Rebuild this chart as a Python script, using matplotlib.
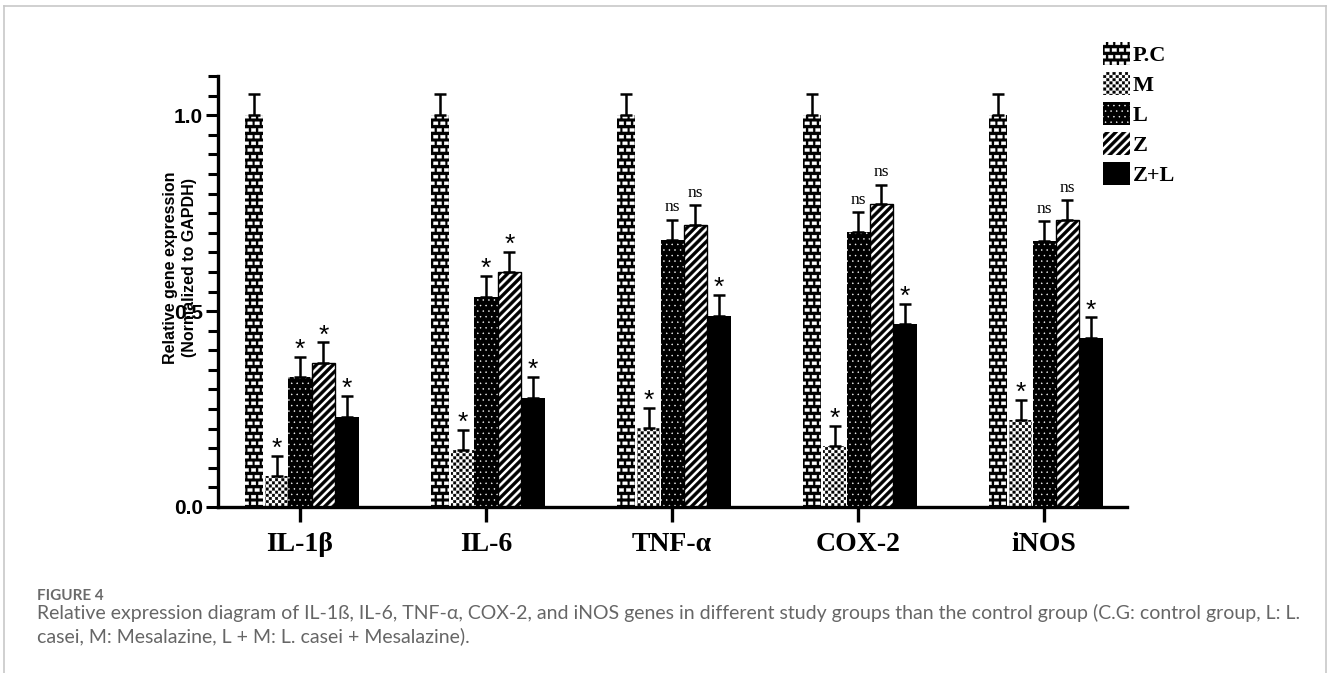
import numpy as np
import matplotlib
matplotlib.use("Agg")
import matplotlib.pyplot as plt
import matplotlib.hatch as mhatch
from matplotlib.path import Path
from matplotlib.patches import Patch
from matplotlib.lines import Line2D
from matplotlib.ticker import MultipleLocator

genes = ["IL-1β", "IL-6", "TNF-α", "COX-2", "iNOS"]
groups = ["P.C", "M", "L", "Z", "Z+L"]

pc = [1.0, 1.0, 1.0, 1.0, 1.0]
m = [0.079, 0.146, 0.202, 0.155, 0.221]
l = [0.332, 0.537, 0.682, 0.702, 0.678]
z = [0.368, 0.599, 0.719, 0.773, 0.732]
zl = [0.230, 0.279, 0.488, 0.467, 0.432]

pc_err = [0.055, 0.055, 0.055, 0.055, 0.055]
m_err = [0.052, 0.051, 0.051, 0.053, 0.053]
l_err = [0.052, 0.052, 0.051, 0.051, 0.052]
z_err = [0.052, 0.051, 0.051, 0.050, 0.051]
zl_err = [0.053, 0.053, 0.053, 0.051, 0.052]

m_sig = ["*", "*", "*", "*", "*"]
l_sig = ["*", "*", "ns", "ns", "ns"]
z_sig = ["*", "*", "ns", "ns", "ns"]
zl_sig = ["*", "*", "*", "*", "*"]


# --- custom hatch patterns (brick, checker, thick stripes) ---
RECT = [Path.MOVETO, Path.LINETO, Path.LINETO, Path.LINETO, Path.CLOSEPOLY]


class BrickHatch(mhatch.HatchPatternBase):
    def __init__(self, hatch, density):
        self.rows = 15 if 'O' in hatch else 0
        self.cols = 14
        self.num_vertices = sum(self.cols + (i % 2) for i in range(self.rows)) * 5

    def set_vertices_and_codes(self, vertices, codes):
        dy = 1.0 / self.rows
        dx = 1.0 / self.cols
        bw, bh = dx * 0.62, dy * 0.45
        k = 0
        for i in range(self.rows):
            shift = 0.5 * dx * (i % 2)
            starts = [j * dx + shift for j in range(self.cols)]
            if i % 2:
                starts.append(shift - dx)
            y0 = i * dy + (dy - bh) / 2
            for x0 in starts:
                x0 += (dx - bw) / 2
                vertices[k:k + 5] = [[x0, y0], [x0 + bw, y0], [x0 + bw, y0 + bh],
                                     [x0, y0 + bh], [x0, y0]]
                codes[k:k + 5] = RECT
                k += 5


class CheckerHatch(mhatch.HatchPatternBase):
    def __init__(self, hatch, density):
        self.n = 32 if 'o' in hatch else 0
        self.num_vertices = self.n * self.n // 2 * 5

    def set_vertices_and_codes(self, vertices, codes):
        d = 1.0 / self.n
        s = d * 0.8
        k = 0
        for i in range(self.n):
            for j in range(self.n):
                if (i + j) % 2 == 0:
                    x0 = j * d + (d - s) / 2
                    y0 = i * d + (d - s) / 2
                    vertices[k:k + 5] = [[x0, y0], [x0 + s, y0], [x0 + s, y0 + s],
                                         [x0, y0 + s], [x0, y0]]
                    codes[k:k + 5] = RECT
                    k += 5


class StripeHatch(mhatch.HatchPatternBase):
    def __init__(self, hatch, density):
        self.n = int(hatch.count('/') * density)
        self.num_vertices = (2 * self.n + 1) * 5 if self.n else 0

    def set_vertices_and_codes(self, vertices, codes):
        w = 0.5 / self.n
        k = 0
        for i in range(-self.n, self.n + 1):
            c = i / self.n
            vertices[k:k + 5] = [[0, c], [1, 1 + c], [1, 1 + c + w], [0, c + w], [0, c]]
            codes[k:k + 5] = RECT
            k += 5


mhatch._hatch_types[:] = [mhatch.HorizontalHatch, mhatch.VerticalHatch, StripeHatch,
                          mhatch.SouthEastHatch, mhatch.SmallFilledCircles,
                          CheckerHatch, BrickHatch, mhatch.Stars]

plt.rcParams['hatch.linewidth'] = 0.3

W, H = 1328, 673
fig = plt.figure(figsize=(W / 100, H / 100), dpi=100)

# axes placed in pixels: y axis at x=218, x axis at y=507, top at 1.1
ax = fig.add_axes([218 / W, (H - 507) / H, (1127 - 218) / W, (507 - 76) / H])

x = np.arange(len(genes))
bw = 0.124
styles = [
    (pc, pc_err, None, -0.247, 0.097, dict(facecolor='black', edgecolor='white', hatch='O', linewidth=0)),
    (m, m_err, m_sig, -0.126, bw, dict(facecolor='white', edgecolor='black', hatch='o', linewidth=0)),
    (l, l_err, l_sig, 0.0, bw, dict(facecolor='black', edgecolor='white', hatch='...', linewidth=0)),
    (z, z_err, z_sig, 0.126, bw, dict(facecolor='white', edgecolor='black', hatch='//', linewidth=1)),
    (zl, zl_err, zl_sig, 0.253, bw, dict(facecolor='black', edgecolor='black', linewidth=0)),
]

for vals, errs, sig, off, wid, kw in styles:
    vals = np.array(vals)
    errs = np.array(errs)
    ax.bar(x + off, vals, wid, zorder=2, **kw)
    ax.errorbar(x + off, vals, yerr=[np.zeros_like(errs), errs], fmt='none',
                ecolor='black', elinewidth=1.8, capsize=4.2, capthick=1.8, zorder=3)
    if sig is None:
        continue
    for xi, v, e, s in zip(x + off, vals, errs, sig):
        if s == "*":
            ax.annotate(s, (xi, v + e), xytext=(0, 0), textcoords='offset points',
                        ha='center', va='baseline', fontsize=19,
                        family='Liberation Sans')
        else:
            ax.annotate(s, (xi, v + e), xytext=(0, 6), textcoords='offset points',
                        ha='center', va='baseline', fontsize=12.5,
                        family='Liberation Serif')

ax.set_xlim(-0.441, 4.446)
ax.set_ylim(0, 1.1)
for side in ['top', 'right']:
    ax.spines[side].set_visible(False)
for side in ['left', 'bottom']:
    ax.spines[side].set_linewidth(2.4)

ax.set_yticks([0.0, 0.5, 1.0])
ax.set_yticklabels(["0.0", "0.5", "1.0"], fontsize=15, fontweight='bold',
                   family='Liberation Sans')
ax.yaxis.set_minor_locator(MultipleLocator(0.05))
ax.tick_params(axis='y', which='major', length=9, width=2.2, pad=2)
ax.tick_params(axis='y', which='minor', length=7, width=2.2)

ax.set_xticks(x)
ax.set_xticklabels(genes, fontsize=20, fontweight='bold', family='Liberation Serif')
ax.tick_params(axis='x', which='major', length=11, width=2.4, pad=7)

fig.text(180 / W, 1 - 268 / H, "Relative gene expression\n(Normalized to GAPDH)",
         rotation=90, ha='center', va='center', multialignment='center',
         fontsize=11.5, fontweight='bold', family='Liberation Sans', linespacing=1.35)

handles = [Patch(facecolor=kw['facecolor'], edgecolor=kw['edgecolor'],
                 hatch=kw.get('hatch'), linewidth=0)
           for *_, kw in styles]
fig.legend(handles, groups, loc='upper left', bbox_to_anchor=(1103 / W, 1 - 42 / H),
           frameon=False, borderpad=0, borderaxespad=0, handlelength=1.2,
           handleheight=1.2, labelspacing=0.28, handletextpad=0.15,
           prop={'family': 'Liberation Serif', 'weight': 'bold', 'size': 16})

# caption
fig.text(37 / W, 1 - 596 / H, "FIGURE 4", fontsize=11, fontweight='bold',
         color='#6a6a6a', family='Lato', va='center')
fig.text(37 / W, 1 - 613 / H,
         "Relative expression diagram of IL-1ß, IL-6, TNF-α, COX-2, and iNOS genes in different "
         "study groups than the control group (C.G: control group, L: L.",
         fontsize=14, color='#666666', family='Lato', va='center')
fig.text(37 / W, 1 - 636 / H, "casei, M: Mesalazine, L + M: L. casei + Mesalazine).",
         fontsize=14, color='#666666', family='Lato', va='center')

# light frame around the figure panel
fc = '#c8c8c8'
fig.add_artist(Line2D([4 / W, 4 / W], [0, 1 - 6 / H], color=fc, lw=1.2))
fig.add_artist(Line2D([4 / W, 1326 / W], [1 - 6 / H, 1 - 6 / H], color=fc, lw=1.2))
fig.add_artist(Line2D([1326 / W, 1326 / W], [0, 1 - 6 / H], color=fc, lw=1.2))

fig.savefig("out.png", dpi=100)
